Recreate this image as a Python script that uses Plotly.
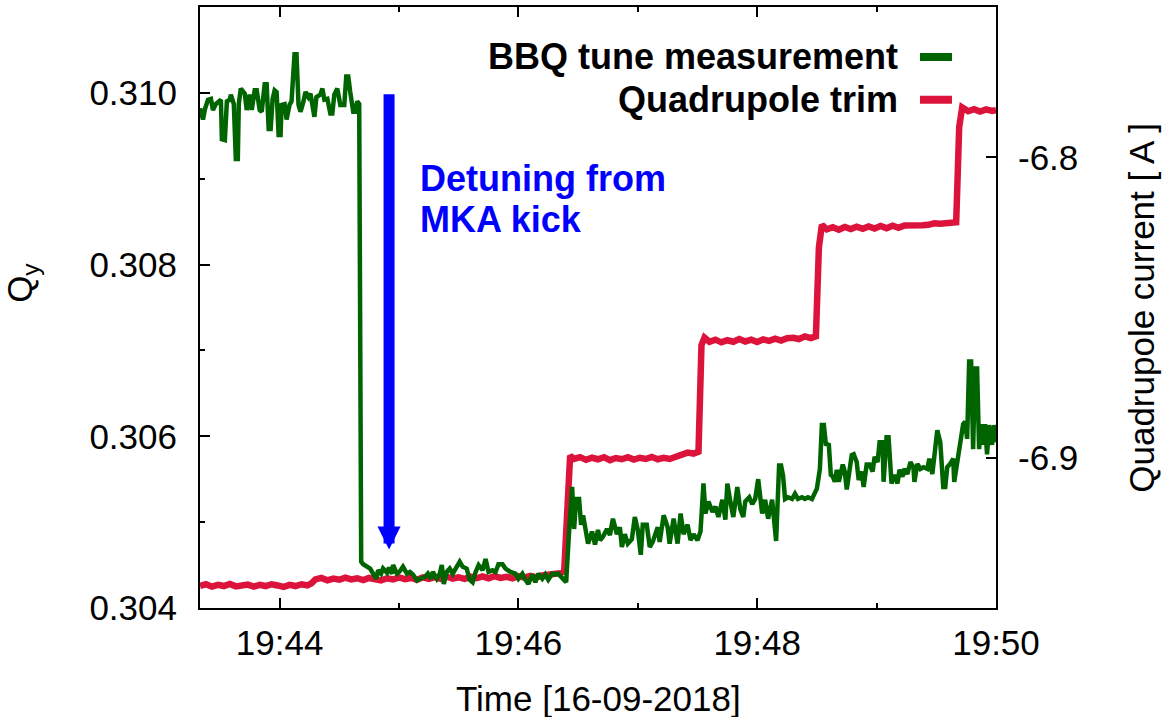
import pandas as pd
import plotly.graph_objects as go

# ---- data -------------------------------------------------------------
T_START = pd.Timestamp("2018-09-16 19:43:20")
T_END = pd.Timestamp("2018-09-16 19:50:00")

# BBQ vertical tune, seconds after T_START
bbq_sec = [
    0, 1.5, 2.5, 4, 5.5, 6.5, 8, 10.5, 11, 12.5, 13.5, 15, 15.5, 17, 18, 19, 19.5,
    20.5, 22.5, 23.5, 25, 26, 27.5, 28.5, 30, 31, 32.5, 33.5, 34.5, 35.5, 36.5,
    37.5, 38.5, 39.5, 40.5, 41, 42.5, 43.5, 45, 46, 47.5, 48.5, 49.5, 50.5, 52,
    53, 54.5, 55.5, 57.5, 58.5, 60.5, 61.5, 62.5, 64, 65.5, 66.5, 67.5, 69, 70.5,
    72.5, 73.5, 74.5, 75.5, 76, 77, 78, 79, 80,
    81, 82, 84, 85.5, 87, 88.5, 89.5, 91, 92, 94, 95, 96.5, 97, 99, 100.5, 102,
    104, 105.5, 107, 109, 110.5, 113, 114.5, 116, 117, 119, 120.5, 121.5, 122.5,
    124, 125.5, 127, 129, 130.5, 132, 134, 135.5, 137, 138.5, 140, 142, 143.5,
    145, 147, 148.5, 150, 152, 153.5, 156, 158.5, 160, 162, 163.5, 165, 167,
    168.5, 170, 172, 173.5, 175, 177, 178.5, 180, 182, 184, 185.5,
    187, 188, 189, 190.5, 191.5, 192.5, 194, 195, 197, 198.5, 200, 201, 202.5,
    204.5, 206, 207.5, 209.5, 211, 212, 213.5, 215, 217, 218.5, 220, 221.5,
    222.5, 224.5, 226, 227.5, 230, 231, 233, 235, 236, 238, 240, 241.5, 243, 245,
    246.5, 248, 250, 251.5, 253, 254, 255.5, 257.5, 259, 260.5, 262.5, 264, 265,
    266.5, 268, 270, 271.5, 273, 274, 276, 277.5, 279, 280.5, 282.5, 284, 285.5,
    287.5, 289.5,
    291, 292, 293, 294, 295.5, 297.5, 299, 300.5, 302.5, 304, 305.5, 307.5, 309,
    310, 311.5, 312.5, 313.5, 314.5, 316, 317, 318, 319, 320, 321, 323, 324, 325,
    326, 327.5, 328.5, 330, 331, 332.5, 333.5, 335, 336.5, 338, 339, 340.5,
    341.5, 343, 343.5, 345, 346, 347.5, 349, 350.5, 351.5, 353, 354, 355.5, 357,
    358.5, 359, 360.5, 362, 363.5, 365.5, 366.5, 368, 369.5, 370.5, 372, 373.5,
    374.5, 375.5, 377, 378.5, 379, 380.5, 382, 383.5, 384.5, 385.5, 386.5, 387.5,
    388.5, 389.5, 390.5, 391.5, 392.5, 393.5, 394.5, 395.5, 396.5, 398, 399, 400,
]
bbq_qy = [
    0.30982, 0.30969, 0.30981, 0.30992, 0.30993, 0.30980, 0.30987, 0.30992,
    0.30946, 0.30945, 0.30990, 0.30992, 0.30998, 0.30987, 0.30923, 0.30923,
    0.30987, 0.31005, 0.30999, 0.30980, 0.30998, 0.30980, 0.31003, 0.31003,
    0.30980, 0.30978, 0.31010, 0.31010, 0.30958, 0.30958, 0.30993, 0.31003,
    0.31001, 0.30951, 0.30951, 0.30986, 0.30987, 0.30969, 0.30986, 0.30990,
    0.31045, 0.31045, 0.30986, 0.30978, 0.30990, 0.31001, 0.30995, 0.30999,
    0.30972, 0.30995, 0.30998, 0.31005, 0.30992, 0.30993, 0.30976, 0.30976,
    0.30998, 0.31005, 0.30986, 0.30986, 0.31019, 0.31019, 0.31001, 0.30992,
    0.30978, 0.30978, 0.30990, 0.30987,
    0.30454, 0.30451, 0.30448, 0.30446, 0.30440, 0.30434, 0.30444, 0.30440,
    0.30446, 0.30441, 0.30447, 0.30440, 0.30450, 0.30440, 0.30443, 0.30448,
    0.30440, 0.30442, 0.30439, 0.30432, 0.30434, 0.30436, 0.30440, 0.30434,
    0.30442, 0.30434, 0.30440, 0.30450, 0.30428, 0.30442, 0.30446, 0.30440,
    0.30448, 0.30454, 0.30448, 0.30446, 0.30433, 0.30430, 0.30442, 0.30450,
    0.30444, 0.30457, 0.30442, 0.30444, 0.30442, 0.30451, 0.30451, 0.30446,
    0.30442, 0.30440, 0.30434, 0.30440, 0.30433, 0.30428, 0.30439, 0.30430,
    0.30440, 0.30434, 0.30439, 0.30433, 0.30440, 0.30439, 0.30440, 0.30434,
    0.30430, 0.30490,
    0.30541, 0.30492, 0.30527, 0.30527, 0.30497, 0.30508, 0.30491, 0.30475,
    0.30489, 0.30474, 0.30491, 0.30479, 0.30483, 0.30492, 0.30485, 0.30504,
    0.30486, 0.30494, 0.30471, 0.30486, 0.30475, 0.30480, 0.30506, 0.30491,
    0.30462, 0.30497, 0.30497, 0.30471, 0.30477, 0.30494, 0.30477, 0.30508,
    0.30494, 0.30475, 0.30504, 0.30475, 0.30510, 0.30486, 0.30497, 0.30479,
    0.30486, 0.30479, 0.30489, 0.30545, 0.30510, 0.30524, 0.30512, 0.30518,
    0.30506, 0.30526, 0.30503, 0.30545, 0.30524, 0.30506, 0.30541, 0.30515,
    0.30506, 0.30524, 0.30529, 0.30521, 0.30527, 0.30550, 0.30510, 0.30526,
    0.30504, 0.30526, 0.30478,
    0.30566, 0.30566, 0.30554, 0.30527, 0.30529, 0.30527, 0.30533, 0.30527,
    0.30529, 0.30527, 0.30529, 0.30527, 0.30533, 0.30539, 0.30562, 0.30613,
    0.30613, 0.30591, 0.30590, 0.30555, 0.30553, 0.30547, 0.30561, 0.30547,
    0.30567, 0.30559, 0.30538, 0.30553, 0.30578, 0.30579, 0.30570, 0.30549,
    0.30559, 0.30541, 0.30567, 0.30567, 0.30559, 0.30576, 0.30570, 0.30593,
    0.30593, 0.30547, 0.30599, 0.30599, 0.30545, 0.30555, 0.30545, 0.30561,
    0.30553, 0.30562, 0.30556, 0.30570, 0.30564, 0.30547, 0.30568, 0.30562,
    0.30564, 0.30562, 0.30574, 0.30556, 0.30593, 0.30607, 0.30593, 0.30541,
    0.30541, 0.30564, 0.30568, 0.30574, 0.30547, 0.30567, 0.30593, 0.30614,
    0.30617, 0.30597, 0.30687, 0.30687, 0.30585, 0.30679, 0.30679, 0.30585,
    0.30614, 0.30590, 0.30614, 0.30579, 0.30613, 0.30590, 0.30613, 0.30593,
]

# Quadrupole trim current [A], seconds after T_START
trim_sec = [
    0, 3, 6, 9, 12, 15, 18, 21, 24, 27, 30, 33, 36, 39, 42, 45, 48, 51, 54, 56,
    58, 61, 64, 67, 70, 73, 76, 79, 82, 85, 88, 91, 94, 97, 100, 103, 106, 109,
    112, 115, 118, 121, 124, 127, 130, 133, 136, 139, 142, 145, 148, 151, 154,
    157, 160, 163, 166, 169, 172, 175, 178, 181, 183, 184.5, 186,
    188, 191, 194, 197, 200, 203, 206, 209, 212, 215, 218, 221, 224, 227, 230,
    233, 236, 239, 242, 245, 248, 250.5, 252,
    253.5, 256, 259, 262, 265, 268, 271, 274, 277, 280, 283, 286, 289, 292, 295,
    298, 301, 304, 307, 309.5, 311,
    312.5, 315, 318, 321, 324, 327, 330, 333, 336, 339, 342, 345, 348, 351, 354,
    357, 360, 363, 366, 369, 372, 375, 378, 380, 381.5,
    383, 386, 389, 392, 395, 398, 400,
]
trim_amp = [
    -6.9426, -6.9421, -6.9429, -6.9423, -6.9427, -6.9420, -6.9428, -6.9424,
    -6.9422, -6.9429, -6.9423, -6.9427, -6.9421, -6.9425, -6.9430, -6.9423,
    -6.9427, -6.9421, -6.9425, -6.9418, -6.9405, -6.9400, -6.9408, -6.9402,
    -6.9406, -6.9399, -6.9405, -6.9401, -6.9407, -6.9400, -6.9403, -6.9408,
    -6.9401, -6.9405, -6.9398, -6.9404, -6.9400, -6.9406, -6.9398, -6.9403,
    -6.9397, -6.9403, -6.9396, -6.9402, -6.9398, -6.9403, -6.9396, -6.9401,
    -6.9395, -6.9401, -6.9394, -6.9400, -6.9396, -6.9401, -6.9394, -6.9399,
    -6.9393, -6.9398, -6.9392, -6.9390, -6.9385, -6.9384, -6.9378, -6.9130,
    -6.8993,
    -6.9004, -6.8998, -6.9007, -6.9000, -6.9005, -6.8998, -6.9008, -6.9001,
    -6.9005, -6.8998, -6.9006, -6.9000, -6.9004, -6.8997, -6.9005, -6.9000,
    -6.9004, -6.8997, -6.8990, -6.8983, -6.8986, -6.8980, -6.8625,
    -6.8600, -6.8614, -6.8607, -6.8616, -6.8609, -6.8614, -6.8605, -6.8613,
    -6.8607, -6.8615, -6.8606, -6.8611, -6.8604, -6.8610, -6.8602, -6.8601,
    -6.8605, -6.8596, -6.8602, -6.8596, -6.8300,
    -6.8225, -6.8240, -6.8233, -6.8241, -6.8232, -6.8239, -6.8231, -6.8238,
    -6.8230, -6.8237, -6.8229, -6.8236, -6.8228, -6.8235, -6.8227, -6.8228,
    -6.8227, -6.8226, -6.8225, -6.8220, -6.8221, -6.8219, -6.8215, -6.8216,
    -6.7900,
    -6.7834, -6.7847, -6.7840, -6.7848, -6.7841, -6.7846, -6.7843,
]

# axis ticks
time_ticks = ["2018-09-16 19:44:00", "2018-09-16 19:46:00",
              "2018-09-16 19:48:00", "2018-09-16 19:50:00"]
time_labels = ["19:44", "19:46", "19:48", "19:50"]
qy_ticks = [0.304, 0.306, 0.308, 0.310]
qy_labels = ["0.304", "0.306", "0.308", "0.310"]
amp_ticks = [-6.9, -6.8]
amp_labels = ["-6.9", "-6.8"]

# MKA kick annotation: arrow from Qy=0.310 down to the detuned tune
kick_time = "2018-09-16 19:44:55"
kick_from, kick_to = 0.310, 0.30468

# ---- figure -----------------------------------------------------------
GREEN = "#006400"
RED = "#dc143c"
BLUE = "#0000ff"
FONT = "Liberation Sans, Arial, Helvetica, sans-serif"

bbq_t = T_START + pd.to_timedelta(bbq_sec, unit="s")
trim_t = T_START + pd.to_timedelta(trim_sec, unit="s")

fig = go.Figure()
# trim current on the right-hand axis (drawn underneath)
fig.add_trace(go.Scatter(x=trim_t, y=trim_amp, mode="lines", yaxis="y",
                         line=dict(color=RED, width=6.5), name="Quadrupole trim"))
# tune on the left-hand axis, overlaid on top
fig.add_trace(go.Scatter(x=bbq_t, y=bbq_qy, mode="lines", yaxis="y2",
                         line=dict(color=GREEN, width=4.5),
                         name="BBQ tune measurement"))

axis_common = dict(showgrid=False, zeroline=False, showline=True,
                   linecolor="black", linewidth=2, ticks="inside",
                   ticklen=10, tickwidth=1.5, tickcolor="black",
                   tickfont=dict(size=35, family=FONT, color="black"))

fig.update_layout(
    width=1170, height=717,
    margin=dict(l=200, r=174, t=5, b=109),
    paper_bgcolor="white", plot_bgcolor="white",
    showlegend=False,
    font=dict(family=FONT, size=35, color="black"),
    xaxis=dict(type="date", range=[T_START, T_END],
               tickvals=time_ticks, ticktext=time_labels,
               mirror="ticks", ticklabelstandoff=3,
               minor=dict(dtick=60000, tick0="2018-09-16 19:44:00",
                          ticks="inside", ticklen=5, tickwidth=1.5,
                          tickcolor="black"),
               **axis_common),
    yaxis=dict(side="right", range=[-6.95, -6.75],
               tickvals=amp_ticks, ticktext=amp_labels,
               ticklabelstandoff=13, **axis_common),
    yaxis2=dict(side="left", overlaying="y", range=[0.304, 0.311],
                tickvals=qy_ticks, ticktext=qy_labels,
                ticklabelstandoff=14,
                minor=dict(dtick=0.001, tick0=0.304, ticks="inside",
                           ticklen=5, tickwidth=1.5, tickcolor="black"),
                **axis_common),
)

annotations = [
    # axis titles
    dict(text="Time [16-09-2018]", xref="paper", yref="paper", x=0.5,
         y=-0.1498, xanchor="center", yanchor="middle", showarrow=False,
         font=dict(size=35)),
    dict(text="Q<sub>y</sub>", xref="paper", yref="paper", x=-0.2236,
         y=0.541, xanchor="center", yanchor="middle", textangle=-90,
         showarrow=False, font=dict(size=35)),
    dict(text="Quadrupole current [ A ]", xref="paper", yref="paper",
         x=1.1825, y=0.5, xanchor="center", yanchor="middle", textangle=-90,
         showarrow=False, font=dict(size=35)),
    # key
    dict(text="<b>BBQ tune measurement</b>", xref="paper", yref="paper",
         x=0.879, y=0.917, xanchor="right", yanchor="middle",
         showarrow=False, font=dict(size=36)),
    dict(text="<b>Quadrupole trim</b>", xref="paper", yref="paper",
         x=0.879, y=0.8457, xanchor="right", yanchor="middle",
         showarrow=False, font=dict(size=36)),
    # kick label
    dict(text="<b>Detuning from</b>", xref="paper", yref="paper",
         x=0.2739, y=0.7146, xanchor="left", yanchor="middle",
         showarrow=False, font=dict(size=36, color=BLUE)),
    dict(text="<b>MKA kick</b>", xref="paper", yref="paper",
         x=0.2739, y=0.6466, xanchor="left", yanchor="middle",
         showarrow=False, font=dict(size=36, color=BLUE)),
    # kick arrow
    dict(text="", x=kick_time, y=kick_to, xref="x", yref="y2",
         ax=kick_time, ay=kick_from, axref="x", ayref="y2",
         showarrow=True, arrowhead=2, arrowsize=0.42, arrowwidth=11,
         arrowcolor=BLUE, standoff=0),
]
fig.update_layout(annotations=annotations)

# key line samples
for yk, col in [(0.917, GREEN), (0.8457, RED)]:
    fig.add_shape(type="line", xref="paper", yref="paper",
                  x0=0.9045, x1=0.9447, y0=yk, y1=yk,
                  line=dict(color=col, width=8))

fig.write_html("out.html")
